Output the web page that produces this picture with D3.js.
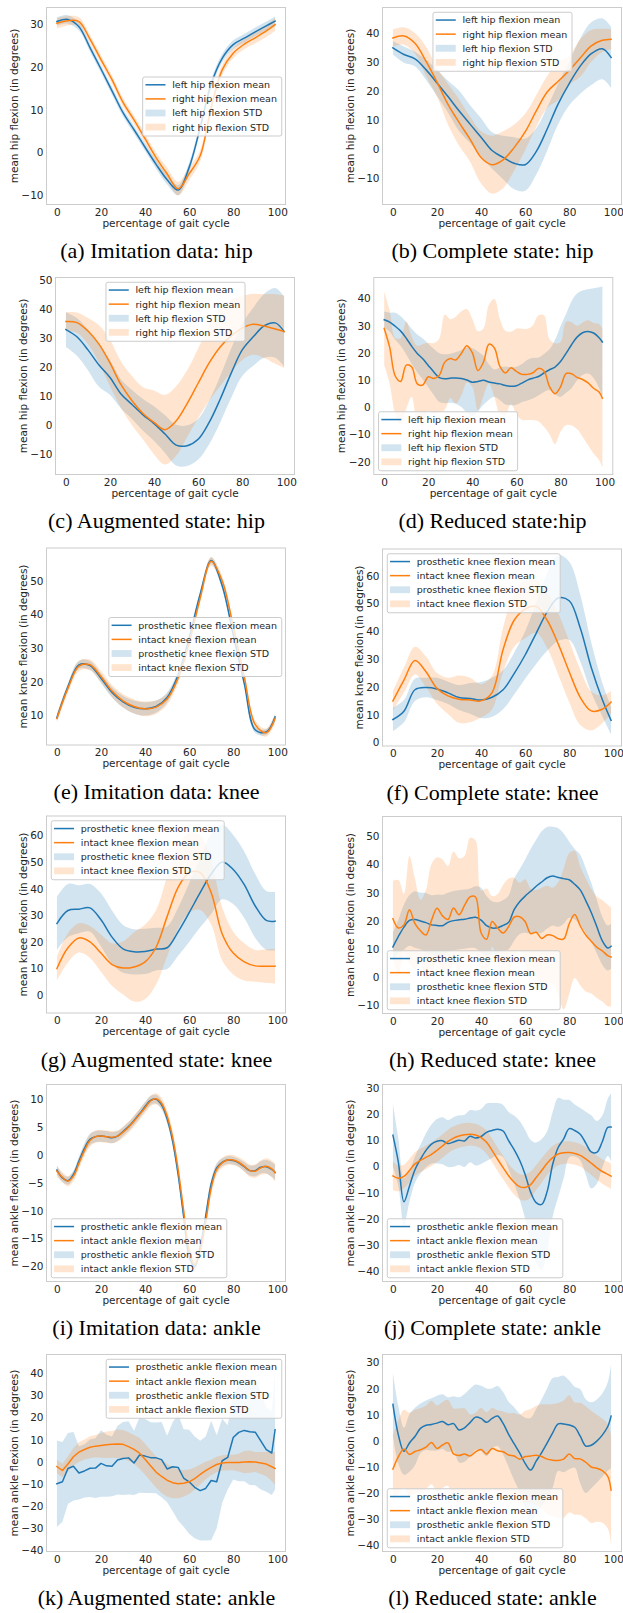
<!DOCTYPE html>
<html>
<head>
<meta charset="utf-8">
<script src="https://cdn.jsdelivr.net/npm/d3@7"></script>
<style>
  html, body { margin: 0; padding: 0; background: #ffffff; }
  svg { display: block; }
</style>
</head>
<body>
<svg id="fig" width="623" height="1613"></svg>
<script>
// ---------- sample positions (percentage of gait cycle) ----------
const pct5 = [0,5,10,15,20,25,30,35,40,45,50,55,60,65,70,75,80,85,90,95,99];
const pct25 = [0,2.5,5,7.5,10,12.5,15,17.5,20,22.5,25,27.5,30,32.5,35,37.5,40,42.5,45,47.5,50,52.5,55,57.5,60,62.5,65,67.5,70,72.5,75,77.5,80,82.5,85,87.5,90,92.5,95,97.5,99];
const xTicks = [0,20,40,60,80,100];

// ---------- hip ----------
const hipImitationLeftMean = [30.6,31.1,29.4,24.5,19.5,14.4,9.3,5.3,1.2,-2.8,-6.4,-8.8,-3.5,5.8,16.0,22.0,25.2,26.7,28.2,29.6,30.7];
const hipImitationLeftStd = [1.0,1.0,0.9,0.9,0.9,0.9,0.9,0.9,0.9,1.0,1.1,1.2,1.1,1.0,1.0,1.0,1.0,1.0,1.0,1.0,1.1];
const hipImitationRightMean = [30.2,30.8,30.6,26.5,21.7,17.0,11.7,7.6,3.2,-1.2,-5.0,-8.5,-5.0,-0.8,10.5,19.3,23.2,25.3,26.8,28.4,29.9];
const hipImitationRightStd = [1.2,1.1,1.0,1.0,1.0,1.0,1.0,1.0,1.1,1.2,1.4,1.6,1.5,1.3,1.2,1.2,1.2,1.2,1.3,1.4,1.5];

const hipCompleteLeftMean = [34.8,32.5,31.0,27.3,22.7,18.0,13.1,8.5,4.0,-0.6,-3.0,-5.0,-5.5,-1.0,6.8,15.5,22.5,28.5,32.8,34.5,31.5];
const hipCompleteLeftStd = [2.3,2.8,2.5,3.5,4.5,5.5,7.0,6.5,6.5,6.3,7.5,9.0,9.0,8.0,7.5,7.0,7.5,9.5,10.8,10.5,10.5];
const hipCompleteRightMean = [38.2,38.9,36.4,30.2,23.0,15.3,9.1,3.3,-3.0,-5.5,-3.8,0.4,5.8,13.0,19.6,23.3,27.0,31.3,35.5,37.4,37.8];
const hipCompleteRightStd = [3.0,3.0,3.5,5.0,5.0,7.0,8.0,7.8,9.0,10.0,9.8,8.0,6.3,5.5,5.5,6.5,5.0,6.5,5.5,4.0,3.5];

const hipAugmentedLeftMean = [33.0,30.5,26.0,20.8,16.5,10.8,7.2,3.6,0.6,-3.0,-6.8,-7.0,-4.8,1.0,9.0,18.0,26.0,30.5,34.3,35.3,32.3];
const hipAugmentedLeftStd = [6.0,6.5,7.0,7.5,6.0,5.0,5.0,5.5,6.0,6.5,7.0,7.0,7.0,7.5,8.0,8.5,9.0,10.0,11.0,12.0,12.0];
const hipAugmentedRightMean = [35.8,35.4,32.5,28.0,21.5,14.0,8.5,4.1,1.0,-1.5,1.5,7.5,14.5,21.5,27.0,30.8,33.5,34.8,34.2,33.2,32.3];
const hipAugmentedRightStd = [3.2,3.5,4.5,6.5,8.0,8.0,8.5,9.0,11.0,12.0,12.0,11.5,12.0,13.0,13.5,12.5,11.0,10.5,11.0,12.0,12.5];

const hipReducedLeftMean = [32.2,31.3,29.8,28.0,25.4,22.4,19.8,17.8,15.4,13.0,10.9,10.5,10.7,10.8,10.6,10.0,9.2,9.5,9.9,9.3,8.9,8.6,8.0,7.7,7.9,8.9,10.0,10.7,11.3,12.6,13.8,14.8,16.8,19.8,23.0,25.8,27.4,27.9,27.3,25.6,24.0];
const hipReducedLeftStd = [3,3.5,5,5.5,6,6.5,7,7.5,8,8.5,9,9,9,9.5,10.5,12,12.5,11,9,6.5,5,6,7,7,7,7,7.5,7.5,7,7,7.5,10,13,14.5,16,16,15.5,15.5,16.5,18.5,20.5];
const hipReducedRightMean = [29.0,22.0,11.5,9.5,15.5,14.8,8.6,8.2,11.2,10.6,11.8,16.6,17.9,17.4,19.8,22.6,20.0,13.5,16.5,23.2,21.8,15.0,12.6,14.5,13.2,12.1,12.1,12.7,14.3,13.3,7.6,5.0,7.5,12.4,12.3,11.0,10.2,9.0,7.0,5.6,3.3];
const hipReducedRightStd = [13.5,13.5,14,16,16,11,14,15,12.5,13,13.5,17.5,14.5,16,15.5,13.5,12.5,14.5,12.5,14.5,18,17.5,15.5,13.3,15.8,16.8,16.8,17.5,19.5,20.5,17.5,18.5,16.5,19,19,19,21,23,24,25,25.5];

// ---------- knee ----------
const kneeImitationProstheticMean = [9.3,18.5,25.0,24.8,21.0,16.8,14.0,12.4,11.9,12.6,15.3,22.0,33.0,46.0,56.0,48.5,34.0,19.5,5.6,5.0,9.5];
const kneeImitationProstheticStd = [0.9,1.0,1.2,1.3,1.4,1.5,1.7,1.9,2.0,1.8,1.5,1.2,1.0,1.0,1.0,1.0,1.0,0.9,0.9,0.9,1.0];
const kneeImitationIntactMean = [9.0,18.0,24.6,25.0,21.5,17.2,14.3,12.6,11.9,12.4,14.8,21.0,31.5,44.8,55.8,50.0,36.5,21.5,7.2,4.8,9.0];
const kneeImitationIntactStd = [1.3,1.3,1.5,1.6,1.7,1.8,2.0,2.1,2.2,2.0,1.7,1.5,1.3,1.3,1.3,1.3,1.3,1.2,1.2,1.2,1.4];

const kneeCompleteProstheticMean = [8.3,11.3,19.0,19.8,19.3,17.9,16.2,15.9,15.3,16.3,19.0,24.8,31.5,39.3,47.0,52.0,51.0,41.2,27.0,15.5,8.0];
const kneeCompleteProstheticStd = [4.2,4.0,4.0,3.5,4.0,4.0,4.5,5.5,6.5,7.0,7.0,7.5,8.5,11.0,14.0,15.5,14.0,12.0,9.0,6.0,5.0];
const kneeCompleteIntactMean = [15.0,22.5,29.5,25.5,19.5,16.8,15.6,15.3,15.0,18.0,33.5,44.0,48.0,49.0,44.0,35.5,25.5,16.3,11.4,12.0,14.6];
const kneeCompleteIntactStd = [3.5,4.5,5.0,5.5,5.5,6.5,8.5,8.0,6.0,6.0,8.0,9.5,10.5,9.5,10.0,11.0,11.0,10.0,7.0,5.0,4.0];

const kneeAugmentedProstheticMean = [26.9,31.8,32.3,32.8,28.3,21.8,17.4,16.3,16.4,17.3,17.8,23.8,31.0,38.5,45.5,50.0,47.2,41.5,33.5,28.1,27.8];
const kneeAugmentedProstheticStd = [10,10,9,9,10,10,9,8.5,8.5,8,8,9,11,13,15,14,13,12.5,12,11,11];
const kneeAugmentedIntactMean = [10.0,17.8,21.5,20.0,15.8,11.5,10.2,10.6,12.5,18.0,29.5,40.5,46.0,46.0,38.5,23.0,15.8,12.5,11.0,10.9,10.9];
const kneeAugmentedIntactStd = [4.5,5.5,5.5,6,7,8,10,13,14,14,15,15.5,15,14,12,10,8,7,6,6.3,6.5];

const kneeReducedProstheticMean = [10.8,14.5,17.8,20.2,20.5,20.0,19.4,18.6,18.4,18.3,19.5,20.1,20.4,20.6,21.0,21.3,20.3,18.3,17.5,17.6,18.4,19.5,24.0,26.8,28.8,30.5,32.3,33.8,35.3,35.9,35.4,35.0,34.6,33.0,31.0,27.2,23.0,18.0,13.0,10.4,11.0];
const kneeReducedProstheticStd = [5,6,8,9,10,10,10.5,10.5,11,11,10.5,10.5,10.5,10.5,10.5,11,11.5,10.5,9.5,9,9,9.5,11,11.5,13,15,16.5,18,18,17.5,17.5,16,13.5,12.5,12.5,11.5,10.5,9.5,8.5,8,8];
const kneeReducedIntactMean = [20.8,17.5,18.6,24.0,19.0,16.5,15.0,20.2,24.5,21.8,20.5,24.6,22.2,25.5,28.5,28.5,15.8,13.5,19.8,17.5,15.7,18.0,21.3,21.5,19.8,15.5,16.0,13.8,15.0,14.8,13.7,13.6,19.0,22.3,18.2,15.0,12.8,10.7,9.4,7.7,7.2];
const kneeReducedIntactStd = [13.5,17,11,19,16,11,16,20,18,20,19,20,20,17.5,21,20,15,18,9,12,17,17,14,12,15,16,15,18,17.5,17,20,25,25,22.5,21,20,18.5,18,18,18,17.5];

// ---------- ankle ----------
const ankleImitationProstheticMean = [-2.7,-4.1,-4.6,-3.5,-1.1,1.2,2.8,3.3,3.4,3.3,3.1,3.4,4.2,5.1,6.2,7.4,8.7,9.8,10.0,9.0,6.5,2.5,-3.5,-11.0,-18.2,-20.0,-16.5,-11.0,-5.2,-2.3,-1.3,-0.9,-1.0,-1.4,-2.1,-2.8,-2.8,-2.2,-2.1,-2.6,-3.1];
const ankleImitationProstheticStd = [0.8,0.7,0.7,0.7,0.8,0.9,1.0,1.0,1.0,1.0,1.0,0.9,0.8,0.8,0.8,0.8,0.8,0.8,0.8,0.8,0.8,0.8,0.8,0.8,0.8,0.8,0.8,0.8,0.8,0.8,0.7,0.7,0.7,0.7,0.8,0.9,1.0,1.1,1.2,1.3,1.4];
const ankleImitationIntactMean = [-2.9,-4.0,-4.7,-3.8,-1.5,0.8,2.6,3.3,3.4,3.3,3.2,3.4,4.1,5.0,6.1,7.3,8.5,9.7,10.1,9.3,7.0,3.2,-2.6,-10.0,-17.2,-19.7,-17.2,-12.0,-6.0,-2.6,-1.4,-0.9,-0.9,-1.3,-2.0,-2.8,-2.9,-2.3,-2.0,-2.5,-3.2];
const ankleImitationIntactStd = [1.0,0.9,0.9,0.9,1.0,1.0,1.1,1.1,1.1,1.1,1.1,1.0,1.0,1.0,1.0,1.0,1.0,1.0,1.0,1.0,1.1,1.2,1.3,1.3,1.2,1.1,1.2,1.3,1.2,1.0,0.9,0.9,0.9,0.9,1.0,1.1,1.2,1.3,1.4,1.5,1.6];

const ankleCompleteProstheticMean = [12.0,1.5,-13.5,-7.5,-1.2,2.8,6.2,8.6,9.7,9.9,8.8,9.4,10.1,9.8,11.6,10.9,11.5,13.1,13.8,14.3,13.6,9.9,6.5,2.4,-3.0,-9.8,-13.8,-14.5,-9.5,0.9,7.3,10.6,14.5,13.8,12.4,9.0,5.6,5.4,9.5,15.0,15.1];
const ankleCompleteProstheticStd = [12,9,9,6,5,5.5,6.5,7.5,8.5,9,9,9.5,9.5,10,10,10.5,10.5,11,10.5,10,10,11,13,15,17,20,23,25,23,20,19,15,11,10,10,12,14,12,10,11,13];
const ankleCompleteIntactMean = [-3.6,-4.5,-3.8,-1.5,1.0,2.4,3.5,4.7,6.2,7.9,9.6,10.9,11.7,12.2,12.4,12.1,11.1,9.3,6.2,2.8,-0.4,-3.5,-6.0,-7.7,-8.0,-6.9,-4.2,-1.5,1.3,3.4,4.8,5.3,5.4,5.0,4.3,2.9,1.3,-0.4,-1.9,-3.0,-3.7];
const ankleCompleteIntactStd = [5.5,5.0,4.5,4.5,4.5,4.5,4.5,4.5,4.5,4.5,4.5,4.5,4.5,4.5,4.3,4.3,4.3,4.5,4.5,4.5,4.5,4.5,4.7,4.8,5.0,5.0,4.8,4.7,4.5,4.5,4.3,4.3,4.3,4.3,4.3,4.5,4.5,4.6,4.7,4.8,4.8];

const ankleAugmentedProstheticMean = [-9.9,-9.0,-3.0,-2.0,-5.0,-4.1,-2.9,-2.8,-0.7,-1.8,-2.0,0.8,1.5,1.8,-0.5,3.1,2.6,1.9,1.8,1.0,-3.2,-2.2,-2.5,-7.3,-9.0,-11.5,-13.0,-12.0,-8.4,-9.0,0.5,2.0,11.0,13.3,14.2,13.6,13.4,9.5,5.5,4.0,14.5];
const ankleAugmentedProstheticStd = [19.5,18,16,15.5,12,12,13,13.5,15,14,13.5,15.5,16.5,16.5,14.5,17,16.7,16,16,17,15,20,24,22,23.5,23,22.5,23.5,27,21,19,14.5,19,22,23,24,24,22,19,19,27];
const ankleAugmentedIntactMean = [-2.1,-3.9,-1.0,2.3,4.4,5.6,6.6,7.1,7.4,7.7,7.9,8.1,7.9,6.9,5.6,3.9,1.2,-1.8,-4.6,-6.6,-8.3,-9.4,-9.9,-9.7,-9.0,-7.6,-5.7,-4.0,-2.5,-1.2,-0.5,-0.3,-0.3,-0.3,-0.1,0.1,-0.1,-0.5,-1.0,-2.2,-3.0];
const ankleAugmentedIntactStd = [3,3,3.5,4,4.5,4.5,5,5,5.5,6,6,6.5,6.5,6.5,6.5,7,7,7,7,7.5,7.5,7,6.5,6,5.5,5,4.5,4,3.5,3.5,3.5,3.5,3.5,4,5,5,4.5,5,5.5,6.5,7.5];

const ankleReducedProstheticMean = [14.0,2.2,-4.0,-0.8,1.7,4.8,6.0,6.3,6.8,7.4,6.2,6.6,4.2,5.0,7.0,9.1,8.6,7.1,8.6,9.5,6.7,2.5,-1.1,-4.6,-8.6,-11.2,-7.8,-4.5,-0.8,3.1,6.5,6.5,6.1,5.2,1.8,-2.0,-1.7,-0.1,2.2,5.5,9.5];
const ankleReducedProstheticStd = [12,11,9,11,11,9.5,9.5,10,10.5,10.5,10.5,10.5,12.5,13,13,12.5,12.5,13,11.5,11.5,12,12.5,14,15,17.5,20,20,20.5,21,21,18,18.5,17,15.5,18,18,16.5,16,16,17,20];
const ankleReducedIntactMean = [-10.8,-6.0,-3.1,-5.2,-4.1,-3.4,-2.4,-0.6,-2.9,-1.6,-0.8,-5.0,-5.6,-5.0,-5.8,-4.2,-3.3,-5.0,-2.9,-3.8,-4.2,-5.4,-5.8,-7.0,-6.0,-5.8,-5.5,-6.0,-7.0,-7.4,-7.5,-7.0,-5.0,-6.8,-6.9,-8.2,-10.0,-10.5,-11.4,-13.6,-18.9];
const ankleReducedIntactStd = [13,14,15,16,16,16,16,16,16.5,16.5,16.5,17.5,18,17.5,16,15,16,16,15.5,15.5,15.5,16,16.5,17,17.5,18,19,20,21,21.5,22,22.5,22.5,21.5,21.5,21.5,21.5,20.5,20,20,21];

// ---------- tick labels ----------
const hipImitationYTicks = [-10,0,10,20,30];
const hipCompleteYTicks = [-10,0,10,20,30,40];
const hipAugmentedYTicks = [-10,0,10,20,30,40,50];
const hipReducedYTicks = [-20,-10,0,10,20,30,40];
const kneeImitationYTicks = [10,20,30,40,50];
const kneeCompleteYTicks = [0,10,20,30,40,50,60];
const kneeAugmentedYTicks = [0,10,20,30,40,50,60];
const kneeReducedYTicks = [-10,0,10,20,30,40,50];
const ankleImitationYTicks = [-20,-15,-10,-5,0,5,10];
const ankleCompleteYTicks = [-40,-30,-20,-10,0,10,20,30];
const ankleAugmentedYTicks = [-40,-30,-20,-10,0,10,20,30,40];
const ankleReducedYTicks = [-40,-30,-20,-10,0,10,20,30];

// ---------- text ----------
const hipLabels = ["left hip flexion mean", "right hip flexion mean", "left hip flexion STD", "right hip flexion STD"];
const kneeLabels = ["prosthetic knee flexion mean", "intact knee flexion mean", "prosthetic knee flexion STD", "intact knee flexion STD"];
const ankleLabels = ["prosthetic ankle flexion mean", "intact ankle flexion mean", "prosthetic ankle flexion STD", "intact ankle flexion STD"];
const yLabels = { hip: "mean hip flexion (in degrees)", knee: "mean knee flexion (in degrees)", ankle: "mean ankle flexion (in degrees)" };
const xLabel = "percentage of gait cycle";
const captions = ["(a) Imitation data: hip", "(b) Complete state: hip", "(c) Augmented state: hip", "(d) Reduced state:hip",
  "(e) Imitation data: knee", "(f) Complete state: knee", "(g) Augmented state: knee", "(h) Reduced state: knee",
  "(i) Imitation data: ankle", "(j) Complete state: ankle", "(k) Augmented state: ankle", "(l) Reduced state: ankle"];

// ---------- panel definitions ----------
const panels = [
  { joint: "hip", grid: pct5, a: [hipImitationLeftMean, hipImitationLeftStd], b: [hipImitationRightMean, hipImitationRightStd], yTicks: hipImitationYTicks,
    left: 46, top: 7, yDomain: [-12.3, 34], legend: "center right", curve: "smooth" },
  { joint: "hip", grid: pct5, a: [hipCompleteLeftMean, hipCompleteLeftStd], b: [hipCompleteRightMean, hipCompleteRightStd], yTicks: hipCompleteYTicks,
    left: 382, top: 7, yDomain: [-19.4, 48.9], legend: "upper center", curve: "smooth" },
  { joint: "hip", grid: pct5, a: [hipAugmentedLeftMean, hipAugmentedLeftStd], b: [hipAugmentedRightMean, hipAugmentedRightStd], yTicks: hipAugmentedYTicks,
    left: 55, top: 277, yDomain: [-17.1, 51.1], legend: "upper center", curve: "smooth" },
  { joint: "hip", grid: pct25, a: [hipReducedLeftMean, hipReducedLeftStd], b: [hipReducedRightMean, hipReducedRightStd], yTicks: hipReducedYTicks,
    left: 373.3, top: 277, yDomain: [-24.9, 47.9], legend: "lower left", curve: "smooth" },
  { joint: "knee", grid: pct5, a: [kneeImitationProstheticMean, kneeImitationProstheticStd], b: [kneeImitationIntactMean, kneeImitationIntactStd], yTicks: kneeImitationYTicks,
    left: 46, top: 547.5, yDomain: [1.0, 59.9], legend: "center right", curve: "smooth" },
  { joint: "knee", grid: pct5, a: [kneeCompleteProstheticMean, kneeCompleteProstheticStd], b: [kneeCompleteIntactMean, kneeCompleteIntactStd], yTicks: kneeCompleteYTicks,
    left: 382, top: 548.5, yDomain: [-1.4, 69.8], legend: "upper left", curve: "smooth" },
  { joint: "knee", grid: pct5, a: [kneeAugmentedProstheticMean, kneeAugmentedProstheticStd], b: [kneeAugmentedIntactMean, kneeAugmentedIntactStd], yTicks: kneeAugmentedYTicks,
    left: 46, top: 815.5, yDomain: [-6.9, 67.5], legend: "upper left", curve: "smooth" },
  { joint: "knee", grid: pct25, a: [kneeReducedProstheticMean, kneeReducedProstheticStd], b: [kneeReducedIntactMean, kneeReducedIntactStd], yTicks: kneeReducedYTicks,
    left: 382, top: 816, yDomain: [-13, 57.2], legend: "lower left", curve: "smooth" },
  { joint: "ankle", grid: pct25, a: [ankleImitationProstheticMean, ankleImitationProstheticStd], b: [ankleImitationIntactMean, ankleImitationIntactStd], yTicks: ankleImitationYTicks,
    left: 46, top: 1084, yDomain: [-22.8, 12.75], legend: "lower left", curve: "smooth" },
  { joint: "ankle", grid: pct25, a: [ankleCompleteProstheticMean, ankleCompleteProstheticStd], b: [ankleCompleteIntactMean, ankleCompleteIntactStd], yTicks: ankleCompleteYTicks,
    left: 382, top: 1084, yDomain: [-44.2, 31.6], legend: "lower left", curve: "smooth" },
  { joint: "ankle", grid: pct25, a: [ankleAugmentedProstheticMean, ankleAugmentedProstheticStd], b: [ankleAugmentedIntactMean, ankleAugmentedIntactStd], yTicks: ankleAugmentedYTicks,
    left: 46, top: 1354, yDomain: [-40.7, 48.7], legend: "upper right", curve: "jagged" },
  { joint: "ankle", grid: pct25, a: [ankleReducedProstheticMean, ankleReducedProstheticStd], b: [ankleReducedIntactMean, ankleReducedIntactStd], yTicks: ankleReducedYTicks,
    left: 382, top: 1354, yDomain: [-42.6, 33.3], legend: "lower left", curve: "smooth" }
];

// ---------- drawing ----------
const W = 240, H = 198;
const BLUE = "#1f77b4", ORANGE = "#ff7f0e";
const SANS = "'DejaVu Sans', sans-serif";
const SERIF = "'Liberation Serif', 'Times New Roman', serif";
const TEXT = "#262626";
const svg = d3.select("#fig");
const defs = svg.append("defs");

function textWidth(str, size) {
  const t = svg.append("text").attr("font-family", SANS).attr("font-size", size).text(str);
  const w = t.node().getComputedTextLength();
  t.remove();
  return w;
}

panels.forEach((p, idx) => {
  const g = svg.append("g");
  const x = d3.scaleLinear().domain([-4.95, 103.95]).range([p.left, p.left + W]);
  const y = d3.scaleLinear().domain(p.yDomain).range([p.top + H, p.top]);
  const curve = p.curve === "jagged" ? d3.curveLinear : d3.curveCatmullRom.alpha(0.5);

  const clipId = "clip" + idx;
  defs.append("clipPath").attr("id", clipId)
    .append("rect").attr("x", p.left).attr("y", p.top).attr("width", W).attr("height", H);
  const plot = g.append("g").attr("clip-path", `url(#${clipId})`);

  const series = [
    { mean: p.a[0], std: p.a[1], color: BLUE },
    { mean: p.b[0], std: p.b[1], color: ORANGE }
  ];

  // STD bands
  series.forEach(s => {
    const area = d3.area()
      .x((d, i) => x(p.grid[i]))
      .y0((d, i) => y(d - s.std[i]))
      .y1((d, i) => y(d + s.std[i]))
      .curve(curve);
    plot.append("path").datum(s.mean).attr("d", area)
      .attr("fill", s.color).attr("fill-opacity", 0.2).attr("stroke", "none");
  });

  // mean lines
  series.forEach(s => {
    const line = d3.line().x((d, i) => x(p.grid[i])).y(d => y(d)).curve(curve);
    plot.append("path").datum(s.mean).attr("d", line)
      .attr("fill", "none").attr("stroke", s.color).attr("stroke-width", 1.5)
      .attr("stroke-linejoin", "round").attr("stroke-linecap", "square");
  });

  // frame
  g.append("rect").attr("x", p.left + 0.5).attr("y", p.top + 0.5)
    .attr("width", W - 1).attr("height", H - 1)
    .attr("fill", "none").attr("stroke", "#cccccc").attr("stroke-width", 1);

  // axes
  const xa = g.append("g").attr("transform", `translate(0,${p.top + H})`)
    .call(d3.axisBottom(x).tickValues(xTicks).tickSize(0).tickPadding(3.5));
  const ya = g.append("g").attr("transform", `translate(${p.left},0)`)
    .call(d3.axisLeft(y).tickValues(p.yTicks).tickSize(0).tickPadding(2.5));
  [xa, ya].forEach(ax => {
    ax.select(".domain").remove();
    ax.attr("font-family", SANS).attr("font-size", 10.5);
    ax.selectAll("text").attr("fill", TEXT);
  });

  // axis labels
  g.append("text").attr("x", p.left + W / 2).attr("y", p.top + H + 21.5)
    .attr("text-anchor", "middle").attr("font-family", SANS).attr("font-size", 10.5)
    .attr("fill", TEXT).text(xLabel);
  const maxTick = d3.max(ya.selectAll("text").nodes(), n => n.getComputedTextLength());
  const ylx = p.left - 2.5 - maxTick - 3.5;
  const yly = p.top + H / 2;
  g.append("text").attr("transform", `translate(${ylx},${yly}) rotate(-90)`)
    .attr("text-anchor", "middle").attr("font-family", SANS).attr("font-size", 10.5)
    .attr("fill", TEXT).text(yLabels[p.joint]);

  // legend
  const labels = p.joint === "hip" ? hipLabels : (p.joint === "knee" ? kneeLabels : ankleLabels);
  const fs = 9.5;
  const maxW = d3.max(labels, l => textWidth(l, fs));
  const bw = maxW + 34.3, bh = 59, pad = 4.75;
  let bx, by;
  if (p.legend === "center right") { bx = p.left + W - pad - bw; by = p.top + H / 2 - bh / 2; }
  else if (p.legend === "upper center") { bx = p.left + W / 2 - bw / 2; by = p.top + pad; }
  else if (p.legend === "upper left") { bx = p.left + pad; by = p.top + pad; }
  else if (p.legend === "upper right") { bx = p.left + W - pad - bw; by = p.top + pad; }
  else { bx = p.left + pad; by = p.top + H - pad - bh; }
  const lg = g.append("g");
  lg.append("rect").attr("x", bx + 0.5).attr("y", by + 0.5).attr("width", bw).attr("height", bh)
    .attr("rx", 2).attr("fill", "#ffffff").attr("fill-opacity", 0.8)
    .attr("stroke", "#cccccc").attr("stroke-width", 1);
  const handles = [
    { kind: "line", color: BLUE }, { kind: "line", color: ORANGE },
    { kind: "patch", color: BLUE }, { kind: "patch", color: ORANGE }
  ];
  handles.forEach((h, i) => {
    const cy = by + 8.3 + i * 14.1;
    if (h.kind === "line") {
      lg.append("line").attr("x1", bx + 3.3).attr("x2", bx + 23.3).attr("y1", cy).attr("y2", cy)
        .attr("stroke", h.color).attr("stroke-width", 1.5);
    } else {
      lg.append("rect").attr("x", bx + 3.3).attr("y", cy - 3.4).attr("width", 20).attr("height", 6.8)
        .attr("fill", h.color).attr("fill-opacity", 0.2);
    }
    lg.append("text").attr("x", bx + 30).attr("y", cy + 3.4)
      .attr("font-family", SANS).attr("font-size", fs).attr("fill", TEXT).text(labels[i]);
  });

  // caption
  const cx = idx % 2 === 0 ? 156.5 : 492.5;
  g.append("text").attr("x", cx).attr("y", p.top + H + 53)
    .attr("text-anchor", "middle").attr("font-family", SERIF).attr("font-size", 22)
    .attr("fill", "#000000").text(captions[idx]);
});
</script>
</body>
</html>
